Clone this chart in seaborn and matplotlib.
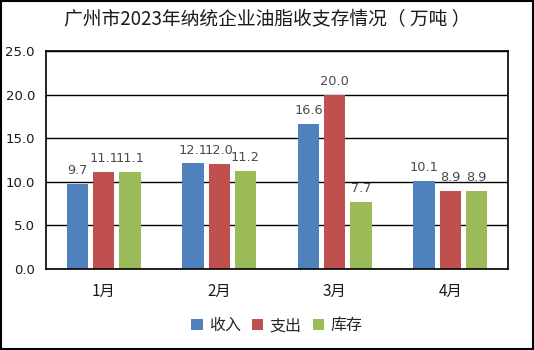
import matplotlib
matplotlib.use("Agg")
import matplotlib.pyplot as plt
import seaborn as sns
import pandas as pd

months = ["1月", "2月", "3月", "4月"]
series = ["收入", "支出", "库存"]
income = [9.7, 12.1, 16.6, 10.1]
expense = [11.1, 12.0, 20.0, 8.9]
stock = [11.1, 11.2, 7.7, 8.9]
colors = ["#4F81BD", "#C0504D", "#9BBB59"]
title = "广州市2023年纳统企业油脂收支存情况（ 万吨 ）"

sns.set_theme(style="white")
plt.rcParams['font.family'] = ['Noto Sans CJK SC', 'DejaVu Sans']

rows = []
for name, vals in zip(series, [income, expense, stock]):
    for m, v in zip(months, vals):
        rows.append({"month": m, "series": name, "value": v})
df = pd.DataFrame(rows)

fig = plt.figure(figsize=(5.34, 3.5), dpi=100)
ax = fig.add_axes([46/534, 1-269/350, 462/534, 218/350])
sns.barplot(data=df, x="month", y="value", hue="series", palette=colors,
            width=0.68, gap=0.18, ax=ax, saturation=1, errorbar=None, legend=True,
            linewidth=0, edgecolor="none")

ax.set_ylim(0, 25)
ax.set_yticks([0, 5, 10, 15, 20, 25])
ax.set_yticklabels([f"{t:.1f}" for t in [0, 5, 10, 15, 20, 25]], fontsize=9.5,
                   family='DejaVu Sans', color="#1a1a1a")
ax.yaxis.grid(True, color="black", linewidth=1)
ax.set_axisbelow(True)
for s in ax.spines.values():
    s.set_color("black")
    s.set_linewidth(1.2)
ax.set_xlabel("")
ax.set_ylabel("")
ax.tick_params(axis='x', labelsize=11, pad=10, length=0, labelcolor="#1a1a1a")
ax.tick_params(axis='y', length=0, pad=8)

for cont in ax.containers:
    ax.bar_label(cont, fmt="%.1f", fontsize=9.3, color="#4a4a4a", padding=5, family='DejaVu Sans')

ax.legend(loc="upper center", bbox_to_anchor=(0.5, -0.155), ncol=3, frameon=False,
          fontsize=11.5, handlelength=0.7, handleheight=0.7, handletextpad=0.4, columnspacing=0.7)

fig.text(0.5, 0.945, title, ha="center", va="center", fontsize=13.5, color="#1a1a1a")
fig.patches.append(plt.Rectangle((0.002, 0.002), 0.996, 0.996, transform=fig.transFigure,
                                 fill=False, edgecolor="black", linewidth=1.5))
fig.savefig("out.png", dpi=100)
